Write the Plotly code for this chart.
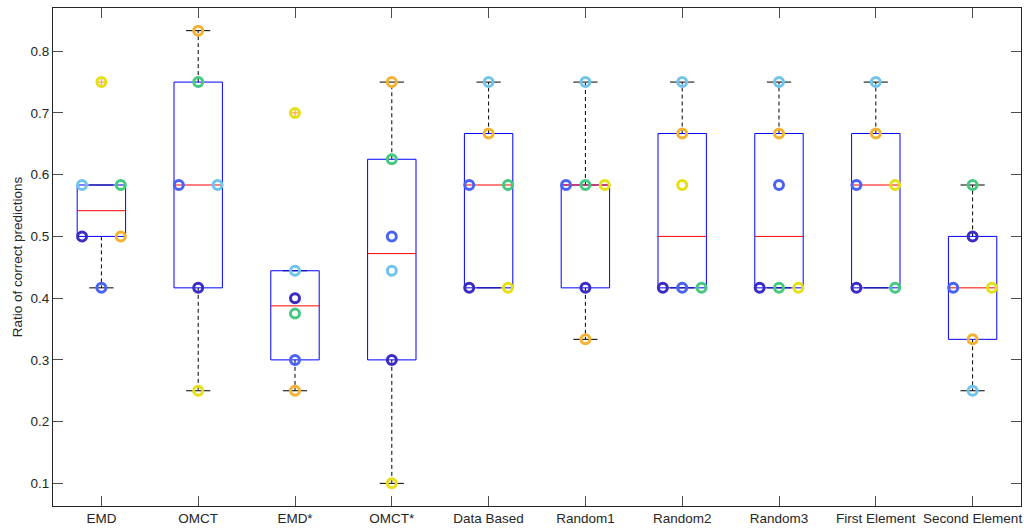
import numpy as np
import plotly.graph_objects as go

categories = ["EMD", "OMCT", "EMD*", "OMCT*", "Data Based", "Random1",
              "Random2", "Random3", "First Element", "Second Element"]

# one value per category for each of the six runs (parula-like colours)
run_1 = [0.5, 0.4167, 0.4, 0.3, 0.4167, 0.4167, 0.4167, 0.4167, 0.4167, 0.5]
run_2 = [0.4167, 0.5833, 0.3, 0.5, 0.5833, 0.5833, 0.4167, 0.5833, 0.5833, 0.4167]
run_3 = [0.5833, 0.5833, 0.4444, 0.4444, 0.75, 0.75, 0.75, 0.75, 0.75, 0.25]
run_4 = [0.5833, 0.75, 0.375, 0.625, 0.5833, 0.5833, 0.4167, 0.4167, 0.4167, 0.5833]
run_5 = [0.5, 0.8333, 0.25, 0.75, 0.6667, 0.3333, 0.6667, 0.6667, 0.6667, 0.3333]
run_6 = [0.75, 0.25, 0.7, 0.1, 0.4167, 0.5833, 0.5833, 0.4167, 0.5833, 0.4167]

runs = [run_1, run_2, run_3, run_4, run_5, run_6]
run_colors = ["#3b2cc4", "#4863f5", "#6ec4ea", "#44c97f", "#f4b232", "#e6df14"]

y_ticks = [0.1, 0.2, 0.3, 0.4, 0.5, 0.6, 0.7, 0.8]


def matlab_prctile(sorted_vals, p):
    n = len(sorted_vals)
    pos = n * p / 100.0 + 0.5
    if pos <= 1:
        return sorted_vals[0]
    if pos >= n:
        return sorted_vals[-1]
    lo = int(np.floor(pos))
    frac = pos - lo
    return sorted_vals[lo - 1] + frac * (sorted_vals[lo] - sorted_vals[lo - 1])


box_x, box_y = [], []
med_x, med_y = [], []
wh_x, wh_y = [], []
cap_x, cap_y = [], []
out_x, out_y = [], []

half_w = 0.25
cap_w = 0.125
for i, cat in enumerate(categories):
    xc = i + 1
    vals = np.sort(np.array([r[i] for r in runs]))
    q1 = matlab_prctile(vals, 25)
    med = float(np.median(vals))
    q3 = matlab_prctile(vals, 75)
    iqr = q3 - q1
    hi_f = q3 + 1.5 * iqr
    lo_f = q1 - 1.5 * iqr
    inside = vals[(vals >= lo_f - 1e-9) & (vals <= hi_f + 1e-9)]
    w_lo, w_hi = inside.min(), inside.max()
    for v in vals:
        if v < lo_f - 1e-9 or v > hi_f + 1e-9:
            out_x.append(xc)
            out_y.append(v)
    box_x += [xc - half_w, xc + half_w, xc + half_w, xc - half_w, xc - half_w, None]
    box_y += [q1, q1, q3, q3, q1, None]
    med_x += [xc - half_w, xc + half_w, None]
    med_y += [med, med, None]
    wh_x += [xc, xc, None, xc, xc, None]
    wh_y += [q3, w_hi, None, q1, w_lo, None]
    cap_x += [xc - cap_w, xc + cap_w, None, xc - cap_w, xc + cap_w, None]
    cap_y += [w_hi, w_hi, None, w_lo, w_lo, None]

fig = go.Figure()
fig.add_trace(go.Scatter(x=wh_x, y=wh_y, mode="lines",
                         line=dict(color="black", width=1, dash="4px,3px"),
                         hoverinfo="skip", showlegend=False))
fig.add_trace(go.Scatter(x=cap_x, y=cap_y, mode="lines",
                         line=dict(color="black", width=1),
                         hoverinfo="skip", showlegend=False))
fig.add_trace(go.Scatter(x=box_x, y=box_y, mode="lines",
                         line=dict(color="#0000ff", width=1),
                         hoverinfo="skip", showlegend=False))
fig.add_trace(go.Scatter(x=med_x, y=med_y, mode="lines",
                         line=dict(color="#ff0000", width=1),
                         hoverinfo="skip", showlegend=False))
fig.add_trace(go.Scatter(x=out_x, y=out_y, mode="markers",
                         marker=dict(symbol="cross-thin-open", size=7,
                                     line=dict(color="#ff0000", width=1.2)),
                         hoverinfo="skip", showlegend=False))

# horizontal offsets for tied values within a category
offsets = [[0.0] * len(categories) for _ in runs]
for i in range(len(categories)):
    groups = {}
    for k, r in enumerate(runs):
        groups.setdefault(round(r[i], 4), []).append(k)
    for v, ks in groups.items():
        if len(ks) > 1:
            for j, off in zip(ks, np.linspace(-0.2, 0.2, len(ks))):
                offsets[j][i] = off

for k, r in enumerate(runs):
    xs = [i + 1 + offsets[k][i] for i in range(len(categories))]
    fig.add_trace(go.Scatter(x=xs, y=r, mode="markers",
                             marker=dict(symbol="circle-open", size=9,
                                         color=run_colors[k],
                                         line=dict(width=3, color=run_colors[k])),
                             name=f"Run {k + 1}", showlegend=False))

axis_common = dict(showline=True, linecolor="#262626", linewidth=1,
                   mirror="ticks", ticks="inside", ticklen=10, tickwidth=1,
                   tickcolor="#4d4d4d", showgrid=False, zeroline=False,
                   tickfont=dict(family="Liberation Sans, Arial, sans-serif",
                                 size=13.5, color="#262626"))

fig.update_layout(
    width=1024, height=529,
    margin=dict(l=53, r=3, t=8, b=23),
    paper_bgcolor="white", plot_bgcolor="white",
    xaxis=dict(range=[0.5, 10.5], tickmode="array",
               tickvals=list(range(1, len(categories) + 1)),
               ticktext=categories, **axis_common),
    yaxis=dict(range=[0.06333, 0.87], tickmode="array", tickvals=y_ticks,
               ticktext=[f"{v:.1f}" for v in y_ticks],
               title=dict(text="Ratio of correct predictions", standoff=4,
                          font=dict(family="Liberation Sans, Arial, sans-serif",
                                    size=13.5, color="#262626")),
               **axis_common),
)

fig.write_html("out.html",
               config={"displayModeBar": False},
               post_script="document.body.style.margin='0';"
                           "document.body.style.overflow='hidden';")
